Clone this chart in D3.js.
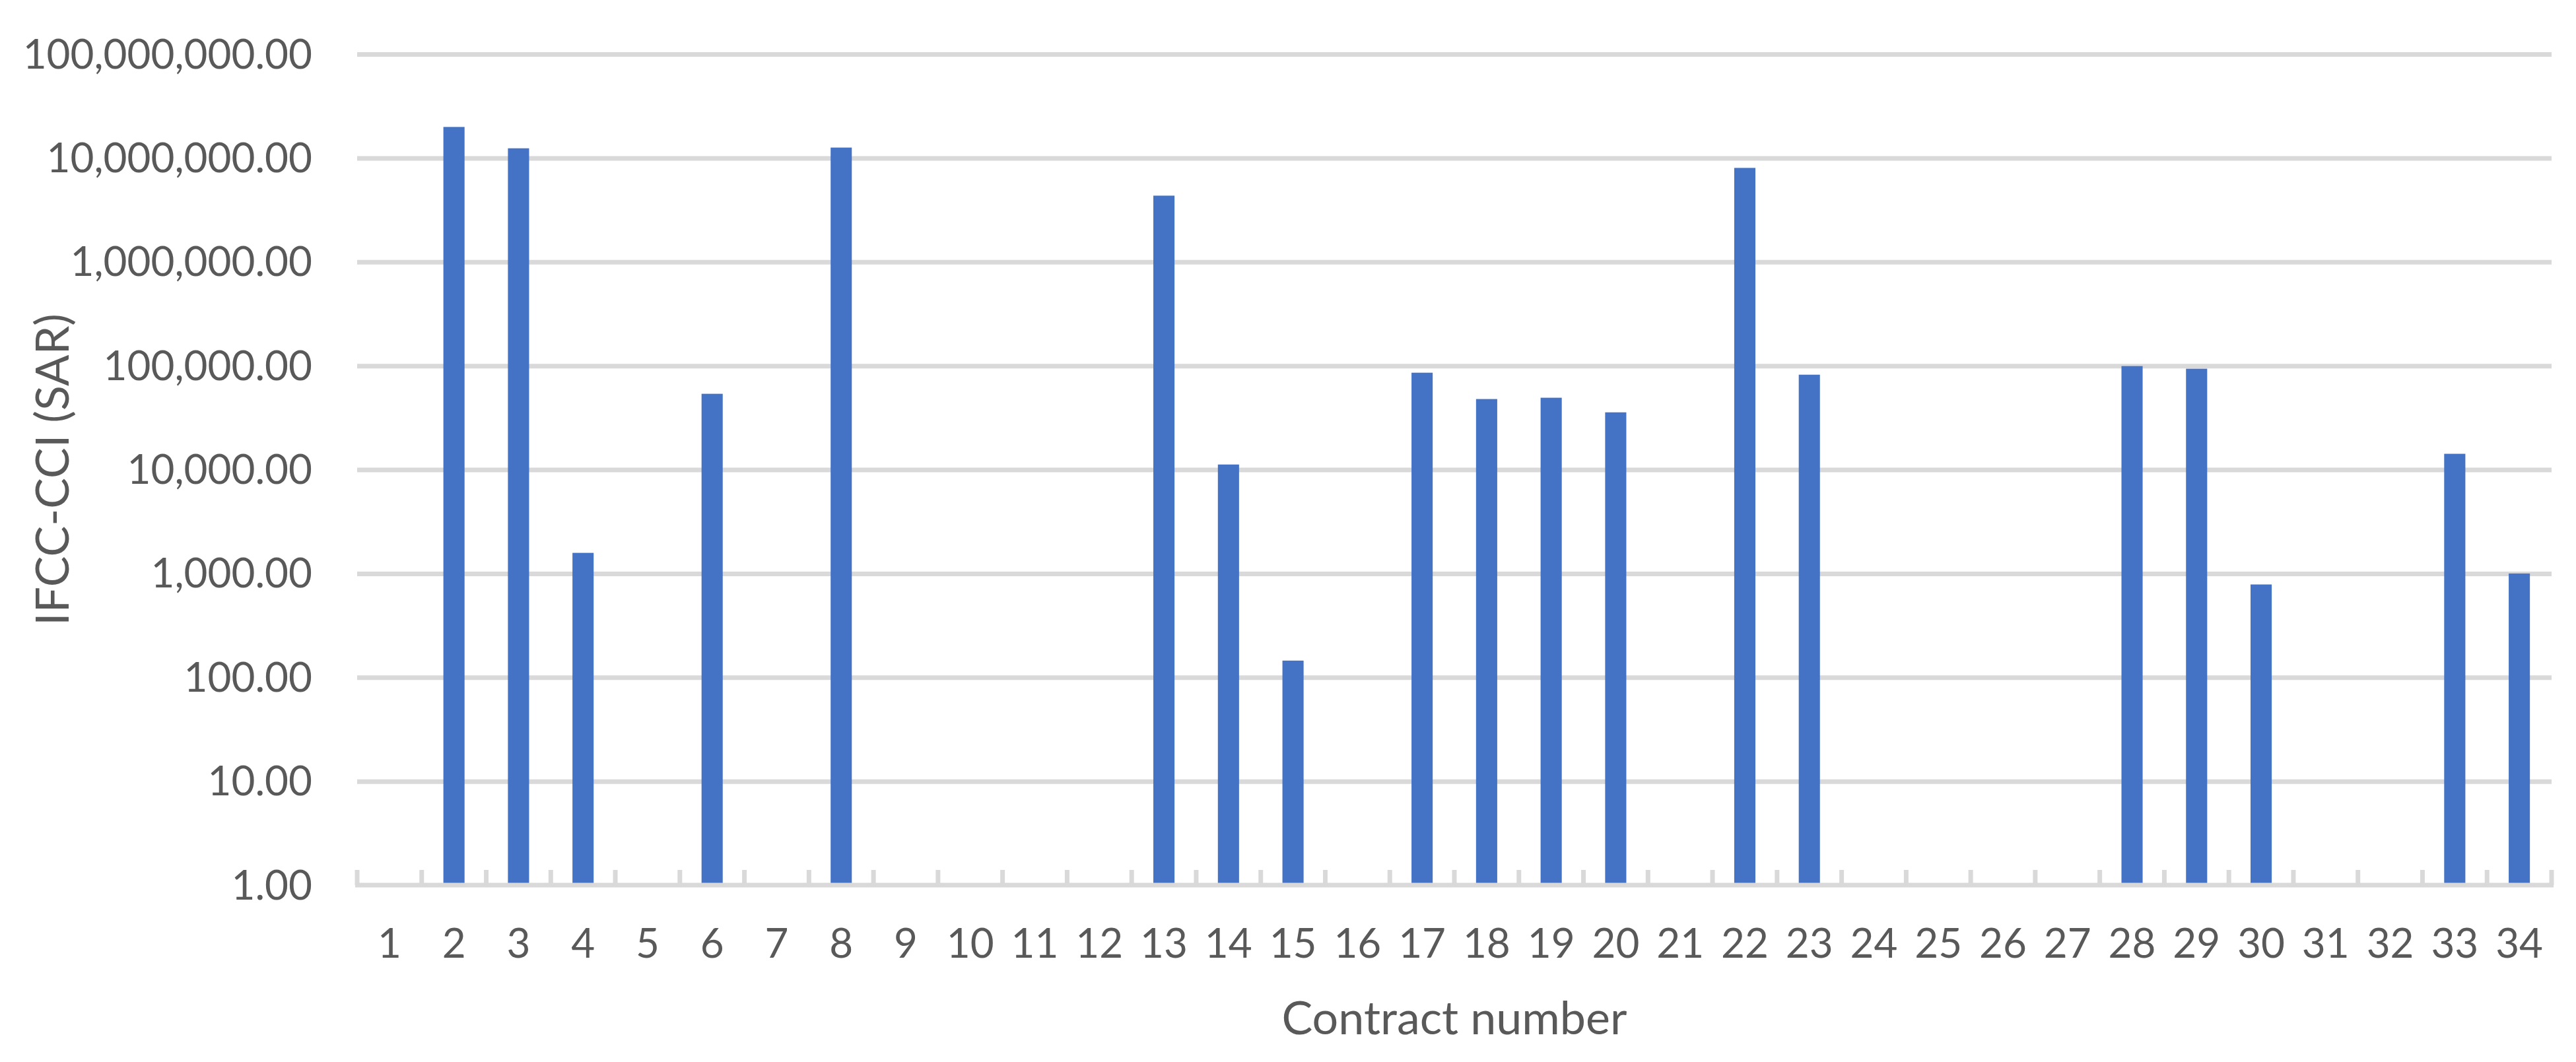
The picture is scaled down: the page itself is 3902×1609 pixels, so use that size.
<!DOCTYPE html>
<html>
<head>
<meta charset="utf-8">
<script src="https://cdn.jsdelivr.net/npm/d3@7"></script>
<style>
  body { margin: 0; background: #fff; }
  svg { display: block; }
  text { font-family: Lato, "Open Sans", sans-serif; fill: #595959; }
</style>
</head>
<body>
<div id="chart"></div>
<script>
// contract numbers 1..34
const contracts = d3.range(1, 35).map(String);

// IFCC-CCI (SAR) per contract, null = no bar
const ifccValues = [
  null, 19900000, 12400000, 1580, null, 53700, null, 12600000, null, null,
  null, null, 4340000, 11200, 145, null, 85700, 47800, 49200, 35600,
  null, 8030000, 82000, null, null, null, null, 99300, 93600, 784,
  null, null, 14200, 1000
];

const yTicks = [1, 10, 100, 1000, 10000, 100000, 1000000, 10000000, 100000000];

const xTitle = "Contract number";
const yTitle = "IFCC-CCI (SAR)";

const data = contracts.map((c, i) => ({ contract: c, value: ifccValues[i] }));

const width = 3902, height = 1609;
const margin = { top: 82, right: 37, bottom: 268, left: 541 };
const innerWidth = width - margin.left - margin.right;
const innerHeight = height - margin.top - margin.bottom;

const svg = d3.select("#chart").append("svg")
  .attr("width", width)
  .attr("height", height);

const g = svg.append("g")
  .attr("transform", `translate(${margin.left},${margin.top})`);

// scales
const x = d3.scaleBand()
  .domain(contracts)
  .range([0, innerWidth])
  .padding(0);

const barFrac = 0.328; // bar width as share of category width
const y = d3.scaleLog()
  .domain([1, 1e8])
  .range([innerHeight, 0]);

// gridlines + y labels
const yAxis = d3.axisLeft(y)
  .tickValues(yTicks)
  .tickFormat(d3.format(",.2f"))
  .tickSize(-innerWidth)
  .tickPadding(68);

const yG = g.append("g").call(yAxis);
yG.select(".domain").remove();
yG.selectAll(".tick line")
  .attr("stroke", "#d9d9d9")
  .attr("stroke-width", 7)
  .filter(d => d === 1).remove();
yG.selectAll(".tick text")
  .attr("fill", "#595959")
  .style("font-size", "62px")
  .attr("dy", "0.34em");

// bars
g.append("g")
  .selectAll("rect")
  .data(data.filter(d => d.value != null))
  .join("rect")
  .attr("x", d => x(d.contract) + x.bandwidth() * (1 - barFrac) / 2)
  .attr("width", x.bandwidth() * barFrac)
  .attr("y", d => y(d.value))
  .attr("height", d => innerHeight - y(d.value))
  .attr("fill", "#4472c4");

// x axis: line, inward ticks at category boundaries, labels
const xG = g.append("g").attr("transform", `translate(0,${innerHeight})`);

xG.append("line")
  .attr("x1", -3).attr("x2", innerWidth + 3)
  .attr("y1", 0).attr("y2", 0)
  .attr("stroke", "#d9d9d9")
  .attr("stroke-width", 7);

const boundaries = contracts.map(c => x(c)).concat([innerWidth]);
xG.selectAll(".bound")
  .data(boundaries)
  .join("line")
  .attr("class", "bound")
  .attr("x1", d => d).attr("x2", d => d)
  .attr("y1", -23).attr("y2", 0)
  .attr("stroke", "#d9d9d9")
  .attr("stroke-width", 7);

xG.selectAll(".xlab")
  .data(contracts)
  .join("text")
  .attr("class", "xlab")
  .attr("x", d => x(d) + x.bandwidth() / 2)
  .attr("y", 110)
  .attr("text-anchor", "middle")
  .style("font-size", "62px")
  .text(d => d);

// axis titles
svg.append("text")
  .attr("x", margin.left + innerWidth / 2)
  .attr("y", 1567)
  .attr("text-anchor", "middle")
  .style("font-size", "70px")
  .text(xTitle);

svg.append("text")
  .attr("transform", `translate(104,${margin.top + innerHeight / 2}) rotate(-90)`)
  .attr("text-anchor", "middle")
  .style("font-size", "70px")
  .text(yTitle);
</script>
</body>
</html>
